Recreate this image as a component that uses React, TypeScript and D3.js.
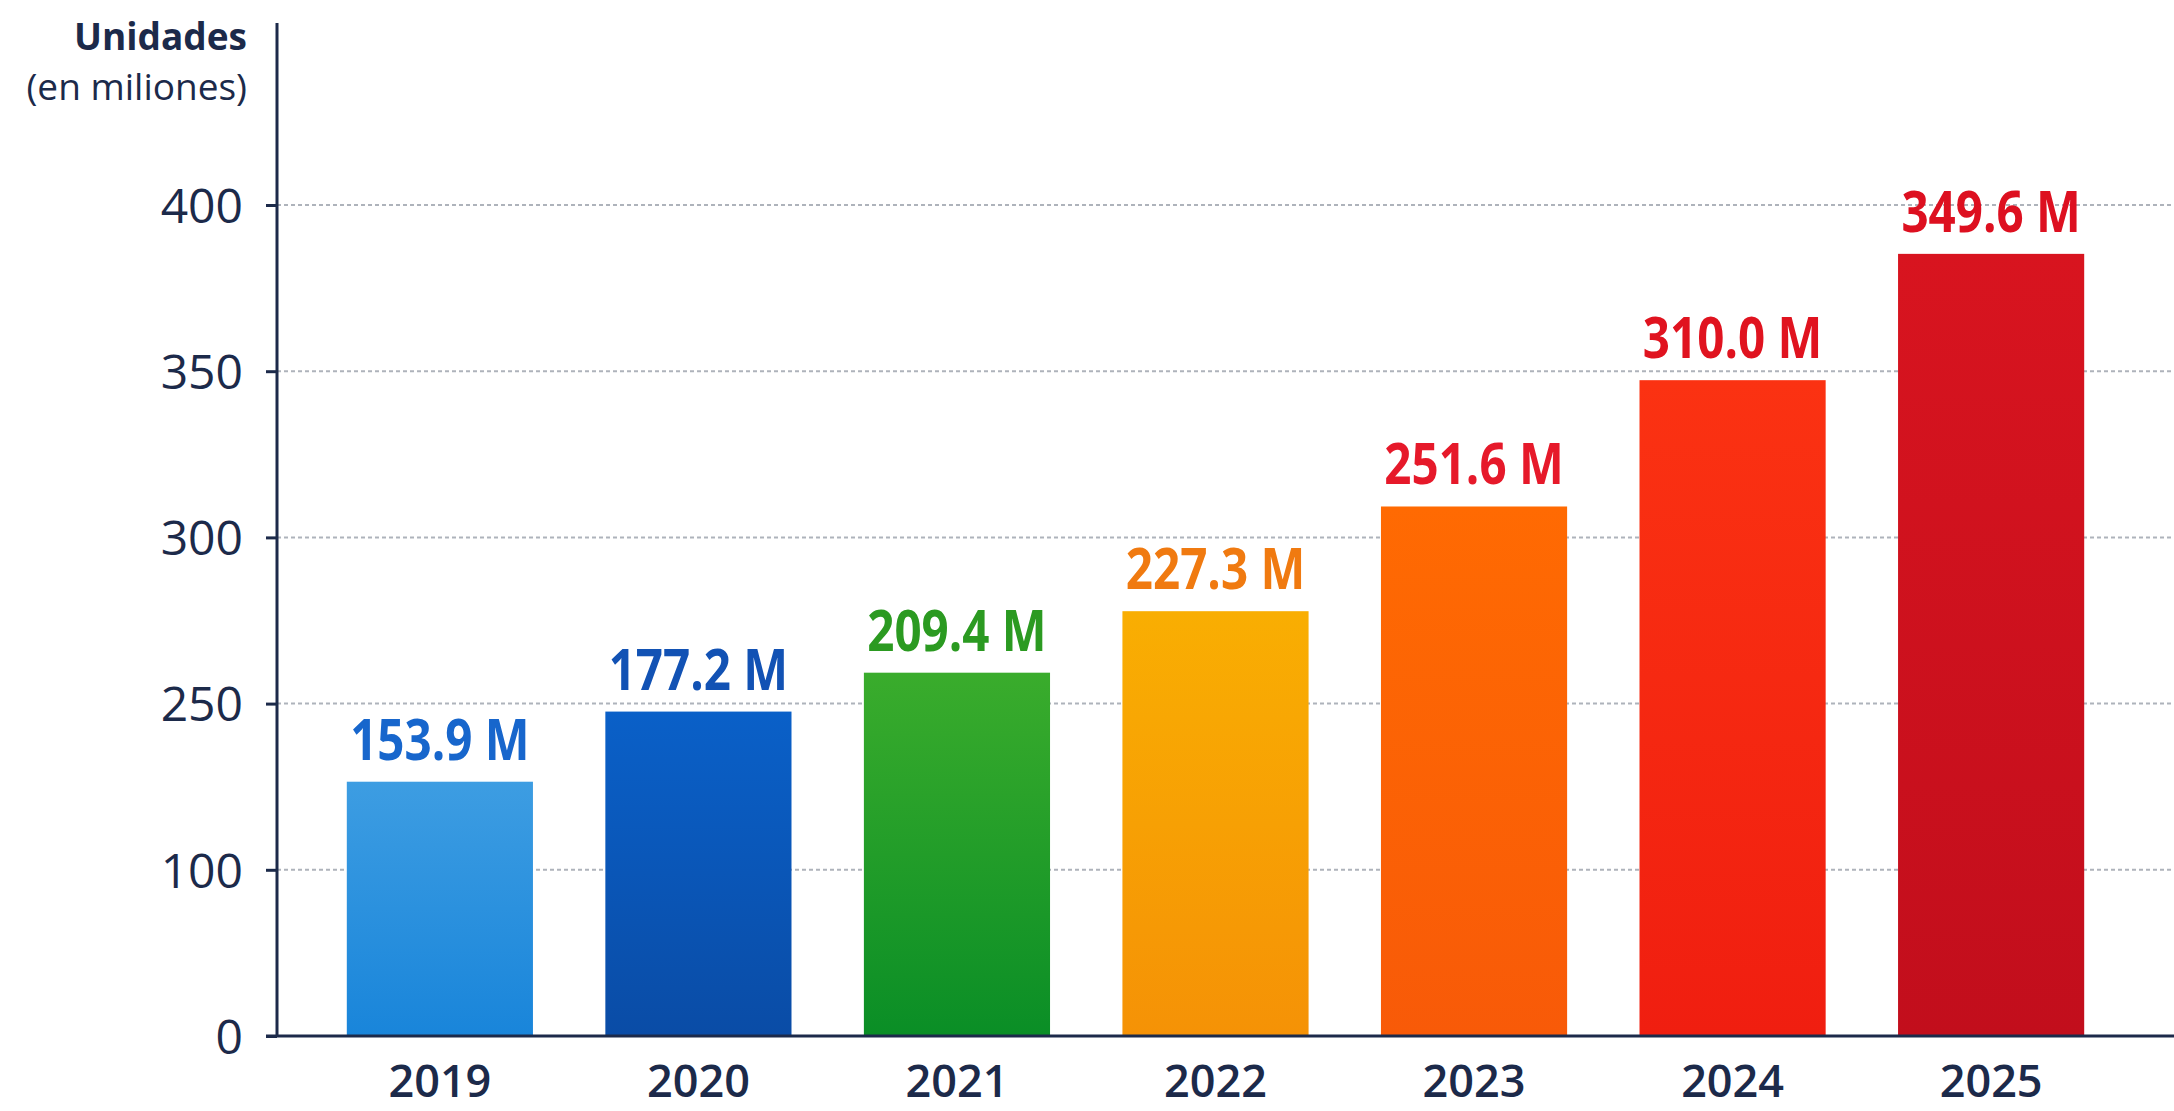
import { useRef, useEffect } from 'react'
import * as d3 from 'd3'

// years on the x axis
const years = ['2019', '2020', '2021', '2022', '2023', '2024', '2025']
// bar heights as read against the drawn y axis
const barValues = [179.5, 242.8, 259.3, 277.8, 309.3, 347.3, 385.3]
// printed labels above the bars
const valueLabels = ['153.9 M', '177.2 M', '209.4 M', '227.3 M', '251.6 M', '310.0 M', '349.6 M']
// y axis ticks (evenly spaced on the page)
const yTicks = [0, 100, 250, 300, 350, 400]

const barTop = ['#3d9de2', '#0a60c8', '#3aac2c', '#f9ae02', '#ff6a02', '#fb3212', '#d8141f']
const barBottom = ['#1985da', '#0a4ca6', '#0a8e26', '#f59206', '#f85a08', '#f01e10', '#c20e1c']
const labelColors = ['#1766cc', '#1252b4', '#2b9a21', '#f07a10', '#e6192a', '#e0131f', '#dd1020']

function App() {
  const containerRef = useRef<HTMLDivElement>(null)

  useEffect(() => {
    if (!containerRef.current) return
    const container = containerRef.current
    container.innerHTML = ''

    const width = 2174
    const height = 1111
    const axisX = 277
    const baseY = 1036
    const topY = 205
    const navy = '#1c2a4a'

    const svg = d3.select(container)
      .append('svg')
      .attr('width', width)
      .attr('height', height)
      .style('position', 'absolute')
      .style('left', '0px')
      .style('top', '0px')
      .style('background', '#ffffff')

    const step = (baseY - topY) / (yTicks.length - 1)
    const y = d3.scaleLinear()
      .domain(yTicks)
      .range(yTicks.map((_, i) => baseY - i * step))

    const x = d3.scaleBand()
      .domain(years)
      .range([axisX, 2154])
      .paddingInner(0.28)
      .paddingOuter(0.27)

    const defs = svg.append('defs')
    years.forEach((yr, i) => {
      const g = defs.append('linearGradient')
        .attr('id', `grad-${yr}`)
        .attr('x1', 0).attr('y1', 0).attr('x2', 0).attr('y2', 1)
      g.append('stop').attr('offset', '0%').attr('stop-color', barTop[i])
      g.append('stop').attr('offset', '100%').attr('stop-color', barBottom[i])
    })

    // dotted gridlines
    svg.append('g')
      .selectAll('line')
      .data(yTicks.filter(t => t > 0))
      .enter()
      .append('line')
      .attr('x1', axisX)
      .attr('x2', width)
      .attr('y1', d => y(d))
      .attr('y2', d => y(d))
      .attr('stroke', '#aeb3bb')
      .attr('stroke-width', 2)
      .attr('stroke-dasharray', '4,3')

    // bars
    svg.append('g')
      .selectAll('rect')
      .data(years)
      .enter()
      .append('rect')
      .attr('x', d => x(d)!)
      .attr('width', x.bandwidth())
      .attr('y', (_, i) => y(barValues[i]))
      .attr('height', (_, i) => baseY - y(barValues[i]))
      .attr('fill', d => `url(#grad-${d})`)

    // value labels
    svg.append('g')
      .selectAll('text')
      .data(years)
      .enter()
      .append('text')
      .attr('transform', (d, i) => `translate(${x(d)! + x.bandwidth() / 2},${y(barValues[i]) - 22}) scale(0.82,1)`)
      .attr('text-anchor', 'middle')
      .attr('font-family', '"Open Sans", sans-serif')
      .attr('font-weight', 700)
      .attr('font-size', '58px')
      .attr('fill', (_, i) => labelColors[i])
      .text((_, i) => valueLabels[i])

    // y axis
    const yAxis = svg.append('g')
      .attr('transform', `translate(${axisX},0)`)
      .call(d3.axisLeft(y).tickValues(yTicks).tickSize(11).tickPadding(23).tickFormat(d3.format('d')))
    yAxis.select('.domain').remove()
    yAxis.selectAll('.tick line').attr('stroke', navy).attr('stroke-width', 3)
    yAxis.selectAll('.tick text')
      .attr('font-family', '"Open Sans", sans-serif')
      .attr('font-size', '48px')
      .attr('fill', navy)
      .attr('dy', '0.36em')

    svg.append('line')
      .attr('x1', axisX).attr('x2', axisX)
      .attr('y1', 23).attr('y2', baseY)
      .attr('stroke', navy)
      .attr('stroke-width', 3)

    // x axis
    const xAxis = svg.append('g')
      .attr('transform', `translate(0,${baseY})`)
      .call(d3.axisBottom(x).tickSize(0).tickPadding(29))
    xAxis.select('.domain').remove()
    xAxis.selectAll('.tick text')
      .attr('font-family', '"Open Sans", sans-serif')
      .attr('font-size', '45px')
      .attr('font-weight', 600)
      .attr('fill', navy)

    svg.append('line')
      .attr('x1', 266).attr('x2', width)
      .attr('y1', baseY).attr('y2', baseY)
      .attr('stroke', navy)
      .attr('stroke-width', 3)

    // axis title
    const title = svg.append('text')
      .attr('text-anchor', 'end')
      .attr('font-family', '"Open Sans", sans-serif')
      .attr('font-size', '37px')
      .attr('fill', navy)
    title.append('tspan').attr('x', 247).attr('y', 50).attr('font-weight', 700).text('Unidades')
    title.append('tspan').attr('x', 247).attr('y', 100).attr('font-weight', 500).text('(en miliones)')
  }, [])

  return <div ref={containerRef} />
}

export default App
